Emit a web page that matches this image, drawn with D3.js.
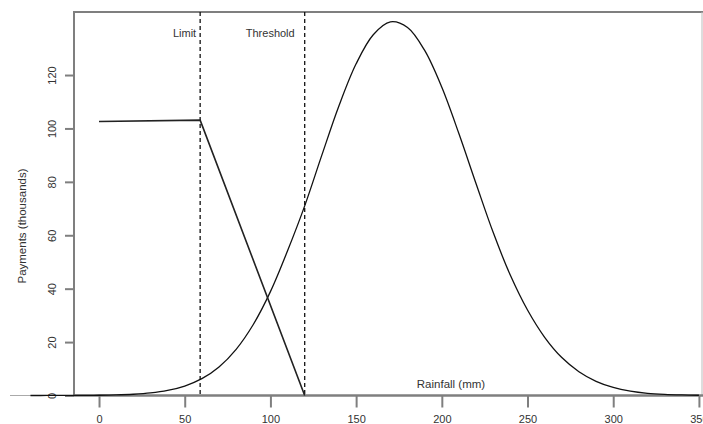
<!DOCTYPE html>
<html>
<head>
<meta charset="utf-8">
<script src="https://cdnjs.cloudflare.com/ajax/libs/d3/7.8.5/d3.min.js"></script>
<style>
  body { margin: 0; background: #fff; }
  text { font-family: "Liberation Sans", Arial, Helvetica, sans-serif; fill: #333; }
</style>
</head>
<body>
<svg id="chart" width="703" height="424"></svg>
<script>
// rainfall (mm) grid for the density curve
var rainfall = [-40, -30, -20, -10, 0, 10, 20, 30, 40, 50, 60, 70, 80, 90, 100, 110, 120, 130, 140, 150,
                160, 170, 180, 190, 200, 210, 220, 230, 240, 250, 260, 270, 280, 290, 300, 310, 320, 330, 340, 350];
// rainfall distribution curve (scaled to the payments axis)
var density = [0, 0.01, 0.02, 0.04, 0.09, 0.21, 0.47, 0.96, 1.9, 3.55, 6.3, 10.7, 17.3, 26.6, 38.9, 54.2, 71.0, 90.0, 108.5, 124.2,
               135.1, 139.9, 137.8, 129.2, 115.4, 98.0, 79.3, 61.0, 45.0, 32.0, 21.8, 14.2, 8.9, 5.3, 3.0, 1.6, 0.8, 0.4, 0.2, 0.1];

// payment schedule: flat until limit, then down to zero at threshold
var payX = [0, 59, 120];
var payY = [102.6, 103.1, 0];

var markerNames = ["Limit", "Threshold"];
var markerX = [59, 120];

var xTicks = [0, 50, 100, 150, 200, 250, 300, 350];
var yTicks = [0, 20, 40, 60, 80, 100, 120];

var svg = d3.select("#chart");

// note: "top" is taken by window.top, so use other names
var plotLeft = 74, plotTop = 12, plotRight = 702, plotBottom = 395.5;

var x = d3.scaleLinear().domain([-14.6, 351.8]).range([plotLeft, plotRight]);
var y = d3.scaleLinear().domain([0, 143.6]).range([plotBottom, plotTop]);

var axisColor = "#7f7f7f";

// frame: top border, right border
svg.append("line").attr("x1", plotLeft).attr("x2", 703).attr("y1", plotTop).attr("y2", plotTop)
   .attr("stroke", axisColor).attr("stroke-width", 2);
svg.append("line").attr("x1", plotRight).attr("x2", plotRight).attr("y1", plotTop).attr("y2", plotBottom)
   .attr("stroke", "#bbb").attr("stroke-width", 1);

// y axis
var yAxis = svg.append("g")
   .attr("transform", "translate(" + plotLeft + ",0)")
   .call(d3.axisLeft(y).tickValues(yTicks).tickSize(9).tickSizeOuter(0));
yAxis.select(".domain").remove();
yAxis.selectAll(".tick line").attr("stroke", axisColor).attr("stroke-width", 2);
yAxis.selectAll(".tick text")
   .attr("x", 0).attr("dy", "0.35em")
   .attr("transform", "translate(-22,0) rotate(-90)")
   .attr("text-anchor", "middle")
   .style("font-size", "11px").style("font-family", "Liberation Sans, Arial, sans-serif").attr("fill", "#333");
svg.append("line").attr("x1", plotLeft).attr("x2", plotLeft).attr("y1", plotTop - 1).attr("y2", plotBottom)
   .attr("stroke", axisColor).attr("stroke-width", 2);

// x axis
var xAxis = svg.append("g")
   .attr("transform", "translate(0," + plotBottom + ")")
   .call(d3.axisBottom(x).tickValues(xTicks).tickSize(12).tickPadding(8).tickSizeOuter(0));
xAxis.select(".domain").remove();
xAxis.selectAll(".tick line").attr("stroke", axisColor).attr("stroke-width", 2);
xAxis.selectAll(".tick text")
   .style("font-size", "11px").style("font-family", "Liberation Sans, Arial, sans-serif").attr("fill", "#333");
svg.append("line").attr("x1", 10).attr("x2", plotLeft).attr("y1", plotBottom).attr("y2", plotBottom)
   .attr("stroke", "#aaa").attr("stroke-width", 1);
svg.append("line").attr("x1", plotLeft).attr("x2", 703).attr("y1", plotBottom).attr("y2", plotBottom)
   .attr("stroke", axisColor).attr("stroke-width", 2.5);

// dashed markers, labels sit just left of each line
var labelGap = [4, 10];
markerX.forEach(function (d, i) {
  svg.append("line")
     .attr("x1", x(d)).attr("x2", x(d)).attr("y1", plotTop).attr("y2", plotBottom)
     .attr("stroke", "#111").attr("stroke-width", 1.3).attr("stroke-dasharray", "4,3");
  svg.append("text")
     .attr("x", x(d) - labelGap[i]).attr("y", 37)
     .attr("text-anchor", "end")
     .style("font-size", "11px")
     .text(markerNames[i]);
});

// density curve
var curve = d3.line()
   .x(function (d, i) { return x(rainfall[i]); })
   .y(function (d) { return y(d); })
   .curve(d3.curveCatmullRom);
svg.append("path").datum(density)
   .attr("d", curve)
   .attr("fill", "none").attr("stroke", "#111").attr("stroke-width", 1.3);

// payments line
var payLine = d3.line()
   .x(function (d, i) { return x(payX[i]); })
   .y(function (d) { return y(d); });
svg.append("path").datum(payY)
   .attr("d", payLine)
   .attr("fill", "none").attr("stroke", "#222").attr("stroke-width", 1.6);

// axis titles
svg.append("text")
   .attr("x", 451).attr("y", 388)
   .attr("text-anchor", "middle")
   .style("font-size", "11.5px")
   .text("Rainfall (mm)");

svg.append("text")
   .attr("transform", "translate(26,226) rotate(-90)")
   .attr("text-anchor", "middle")
   .style("font-size", "11.5px")
   .text("Payments (thousands)");
</script>
</body>
</html>
